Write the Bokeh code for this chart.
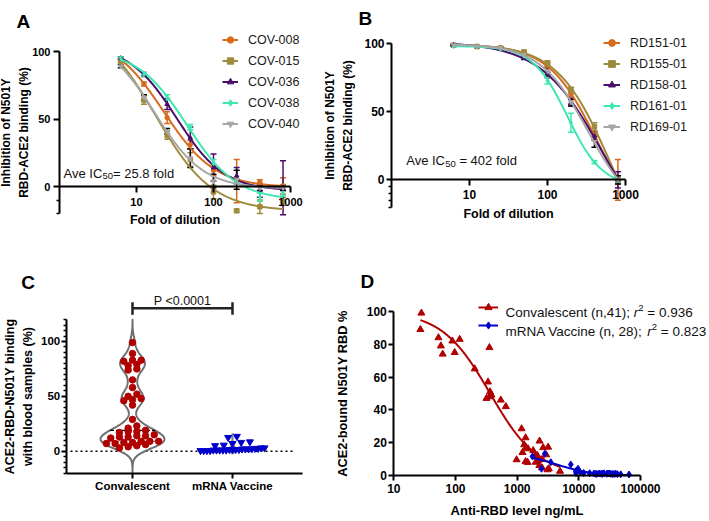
import numpy as np
from bokeh.plotting import figure
from bokeh.models import (Range1d, FixedTicker, NumeralTickFormatter, Label, Legend,
                          LegendItem, Whisker, TeeHead, ColumnDataSource)
from bokeh.layouts import column, row
from bokeh.embed import file_html
from bokeh.resources import INLINE

FONT = "Liberation Sans"

# ---------------- data ----------------
dilutions = [6.25, 12.5, 25, 50, 100, 200, 400, 800]

cov_names = ["COV-008", "COV-015", "COV-036", "COV-038", "COV-040"]
cov_008 = [94, 76, 51, 31, 12, 4, 3, 0.5]
cov_015 = [93, 64, 38, 20, -4, -18, -15, -11]
cov_036 = [95, 83, 61, 36, 14, 8, -3, -1]
cov_038 = [95, 83, 66, 44, 17, 4, -8, -5]
cov_040 = [89, 66, 41, 21, 4, 5, -1, -1]
cov_008_sd = [1.5, 1.5, 4.3, 3.0, 4.0, 16.0, 2.0, 6.0]
cov_015_sd = [1.5, 3.0, 3.0, 5.0, 5.0, 1.0, 5.0, 3.0]
cov_036_sd = [1.0, 1.5, 4.0, 8.0, 10.0, 6.0, 5.0, 20.0]
cov_038_sd = [1.0, 1.5, 2.0, 2.0, 3.0, 2.0, 3.0, 2.0]
cov_040_sd = [1.0, 2.0, 2.0, 7.0, 5.0, 7.0, 2.0, 2.0]

rd_names = ["RD151-01", "RD155-01", "RD158-01", "RD161-01", "RD169-01"]
rd151 = [99, 98, 97, 93, 84, 63, 33, 0]
rd155 = [99, 98, 97, 94, 86, 66, 39, 0]
rd158 = [99, 98, 96, 90, 77, 57, 32, 0]
rd161 = [98, 98, 96, 91, 73, 42, 13, 0]
rd169 = [99, 98, 97, 92, 80, 57, 28, 0]
rd151_sd = [0.5, 0.5, 0.5, 1.0, 2.0, 2.0, 3.0, 15.0]
rd155_sd = [0.5, 0.5, 0.5, 1.0, 1.5, 2.0, 3.0, 3.0]
rd158_sd = [0.5, 0.5, 0.5, 1.5, 2.0, 3.0, 3.0, 6.0]
rd161_sd = [0.5, 0.5, 0.5, 1.5, 2.5, 7.0, 1.0, 2.0]
rd169_sd = [0.5, 0.5, 0.5, 1.5, 3.0, 2.0, 4.0, 3.0]

groups_c = ["Convalescent", "mRNA Vaccine"]
conv_c = [99, 89, 83, 83, 82, 79, 78, 75, 74, 65, 58, 52, 50, 48, 47, 46, 42, 29, 23, 21,
          19, 18, 18, 17, 15, 14, 14, 13, 13, 12, 9, 9, 9, 8, 8, 7, 7, 6, 5, 4, 3]
vac_c = [13.5, 12.5, 8.5, 8, 7, 5.5, 5, 3, 3, 2.5, 2.5, 2, 2, 2, 2, 1.5, 1.5, 1.5, 1.5,
         1, 1, 1, 1, 1, 0.5, 0.5, 0.5, 0.5]
p_text = "P <0.0001"

conv_d_x = [28, 27, 53, 58, 62, 89, 97, 117, 205, 337, 355, 318, 355, 363, 383, 543, 655,
            1180, 1370, 980, 1300, 1400, 1370, 1480, 1500, 1820, 1980, 2130, 2190, 2290,
            2310, 2530, 2530, 2640, 2960, 3180, 3260, 3100, 4960, 1220, 2000]
conv_d_y = [99, 89, 84, 79, 74, 82, 75, 83, 65, 57, 78, 47, 48, 51, 49, 46, 42,
            28.5, 23, 9.6, 18.7, 17, 8.5, 8, 16.3, 15.2, 12.2, 12.2, 9.1, 6.1,
            21, 4.7, 9.8, 17, 12.6, 17.3, 4.1, 3.5, 2.6, 14, 8.1]
vac_d_x = [1770, 2800, 2480, 3510, 7400, 8920, 9700, 10500, 17600, 19500, 21300, 24100,
           25600, 28300, 29700, 32900, 37200, 39600, 42200, 47700, 65200, 15000, 23000,
           35000, 9000, 12000, 19000, 31000]
vac_d_y = [11.6, 13.2, 4.1, 8.1, 6.7, 2.6, 4.1, 2.0, 1.2, 1.0, 1.2, 1.0, 1.3, 1.0, 1.2,
           1.0, 0.9, 1.1, 0.8, 0.7, 0.6, 1.4, 1.1, 0.9, 1.5, 1.5, 1.0, 1.2]

COLORS5 = ["#D86A1E", "#9E8B3D", "#4A0D6E", "#3DE8B0", "#A6A6A6"]
MARKERS5 = ["circle", "square", "triangle", "diamond", "inverted_triangle"]
RED = "#B00000"
BLUE = "#0000CC"

# ---------------- helpers ----------------
W = {' ': 278, '(': 333, ')': 333, ',': 278, ';': 278, '.': 278, '=': 584, '<': 584,
     'A': 667, 'C': 722, 'I': 278, 'N': 722, 'R': 722, 'V': 667, 'P': 667,
     'a': 556, 'c': 500, 'd': 556, 'e': 556, 'f': 278, 'i': 222, 'l': 222, 'm': 833,
     'n': 556, 'o': 556, 'r': 333, 's': 500, 't': 278, 'v': 500}


def tw(s, size):
    return sum(W.get(c, 556) for c in s) / 1000.0 * size


def rich(p, x, y, pieces):
    cx = x
    for t, size, dy, style in pieces:
        lead = len(t) - len(t.lstrip(' '))
        p.add_layout(Label(x=cx + tw(' ' * lead, size), y=y + dy, x_units="screen",
                           y_units="screen", text=t.strip(' '), text_font=FONT,
                           text_font_size=f"{size}px", text_font_style=style,
                           text_baseline="alphabetic", text_align="left",
                           text_color="#111111"))
        cx += tw(t, size)


def fit4pl(x, y, bottom=None, top=None):
    lx = np.log10(np.asarray(x, float))
    y = np.asarray(y, float)
    lic = np.linspace(lx.min() - 0.5, lx.max() + 1.0, 301)[:, None, None]
    hs = np.linspace(0.3, 4.0, 111)[None, :, None]
    g = 1.0 / (1.0 + 10.0 ** (hs * (lx[None, None, :] - lic)))
    if bottom is not None and top is not None:
        b = np.full(g.shape[:2] + (1,), float(bottom))
        s = np.full(g.shape[:2] + (1,), float(top - bottom))
    elif bottom is None:
        gm = g.mean(-1, keepdims=True)
        ym = y.mean()
        s = ((g - gm) * (y - ym)).sum(-1, keepdims=True) / (((g - gm) ** 2).sum(-1, keepdims=True) + 1e-12)
        b = ym - s * gm
    else:
        s = (g * (y - bottom)).sum(-1, keepdims=True) / ((g ** 2).sum(-1, keepdims=True) + 1e-12)
        b = np.full_like(s, float(bottom))
    sse = ((b + s * g - y) ** 2).sum(-1)
    i, j = np.unravel_index(np.argmin(sse), sse.shape)
    return b[i, j, 0], s[i, j, 0], lic[i, 0, 0], hs[0, j, 0]


def curve(params, xmin, xmax, n=200):
    b, s, lic, h = params
    xs = np.logspace(np.log10(xmin), np.log10(xmax), n)
    return xs, b + s / (1.0 + 10.0 ** (h * (np.log10(xs) - lic)))


def fig(w, h, xr, yr, log):
    p = figure(width=w, height=h, x_range=xr, y_range=yr,
               x_axis_type="log" if log else "linear", output_backend="svg",
               toolbar_location=None, min_border=0, title=None)
    p.grid.visible = False
    p.outline_line_color = None
    p.background_fill_color = "white"
    p.border_fill_color = "white"
    return p


def style_axis(ax, tick_size, tick_out=5, lab_standoff=3):
    ax.axis_line_width = 2
    ax.axis_line_color = "black"
    ax.major_tick_line_width = 2
    ax.major_tick_line_color = "black"
    ax.major_tick_out = tick_out
    ax.major_tick_in = 0
    ax.minor_tick_line_width = 1.5
    ax.minor_tick_line_color = "black"
    ax.minor_tick_out = 3
    ax.minor_tick_in = 0
    ax.major_label_text_font = FONT
    ax.major_label_text_font_size = f"{tick_size}px"
    ax.major_label_text_font_style = "bold"
    ax.major_label_text_color = "black"
    ax.major_label_standoff = lab_standoff
    ax.axis_label_text_font = FONT
    ax.axis_label_text_font_style = "bold"
    ax.axis_label_text_color = "black"


def letter(p, x, y, t):
    p.add_layout(Label(x=x, y=y, x_units="screen", y_units="screen", text=t,
                       text_font=FONT, text_font_size="19px", text_font_style="bold",
                       text_baseline="alphabetic", text_color="black"))


def dose_panel(p, names, series, sds, legend_loc, gw):
    items = []
    for k, (nm, ys, sd) in enumerate(zip(names, series, sds)):
        col = COLORS5[k]
        prm = fit4pl(dilutions, ys)
        cx, cy = curve(prm, dilutions[0], dilutions[-1])
        ecol = "black" if k == len(names) - 1 else col
        up = [v + e for v, e in zip(ys, sd)]
        lo = [v - e for v, e in zip(ys, sd)]
        src = ColumnDataSource(dict(base=dilutions, upper=up, lower=lo))
        p.add_layout(Whisker(source=src, base="base", upper="upper", lower="lower",
                             line_color=ecol, line_width=1.5,
                             upper_head=TeeHead(size=6, line_color=ecol, line_width=1.5),
                             lower_head=TeeHead(size=6, line_color=ecol, line_width=1.5)))
        lr = p.line(cx, cy, line_color=col, line_width=2)
        sr = p.scatter(dilutions, ys, marker=MARKERS5[k], size=4.5, color=col)
        items.append(LegendItem(label=nm, renderers=[lr, sr]))
    lg = Legend(items=items, location=legend_loc, glyph_width=gw, glyph_height=19,
                label_height=19, spacing=2, padding=0, margin=0, border_line_color=None,
                background_fill_alpha=0, label_standoff=10, label_text_font=FONT,
                label_text_font_size="12.5px", label_text_color="#1a1a1a")
    p.add_layout(lg)


# ---------------- Panel A ----------------
pA = fig(318, 255, Range1d(0.1714, 2310), Range1d(-51.11, 137.78), True)
xa = pA.xaxis[0]
style_axis(xa, 11, tick_out=6, lab_standoff=5)
xa.fixed_location = 0
xa.bounds = (1, 1000)
xa.ticker = FixedTicker(ticks=[10, 100, 1000])
xa.formatter = NumeralTickFormatter(format="0")
xa.axis_label = "Fold of dilution"
xa.axis_label_text_font_size = "12.5px"
xa.axis_label_standoff = 4
ya = pA.yaxis[0]
style_axis(ya, 11, tick_out=6, lab_standoff=3)
ya.fixed_location = 1
ya.bounds = (-20, 100)
ya.ticker = FixedTicker(ticks=[0, 50, 100], minor_ticks=[-10, -20])
ya.axis_label = "Inhibition of N501Y\nRBD-ACE2 binding (%)"
ya.axis_label_text_font_size = "12px"
ya.axis_label_text_line_height = 1.3
ya.axis_label_standoff = -2
dose_panel(pA, cov_names, [cov_008, cov_015, cov_036, cov_038, cov_040],
           [cov_008_sd, cov_015_sd, cov_036_sd, cov_038_sd, cov_040_sd], (222, 122), 16)
rich(pA, 63, 82.3, [("Ave IC", 13, 0, "normal"), ("50", 9.5, -3, "normal"),
                    ("= 25.8 fold", 13, 0, "normal")])
letter(pA, 16, 234.3, "A")

# ---------------- Panel B ----------------
pB = fig(391, 255, Range1d(0.1159, 11940), Range1d(-55.66, 131.84), True)
xb = pB.xaxis[0]
style_axis(xb, 12, tick_out=6, lab_standoff=4)
xb.fixed_location = 0
xb.bounds = (1, 1000)
xb.ticker = FixedTicker(ticks=[10, 100, 1000])
xb.formatter = NumeralTickFormatter(format="0")
xb.axis_label = "Fold of dilution"
xb.axis_label_text_font_size = "12.5px"
xb.axis_label_standoff = 5
yb = pB.yaxis[0]
style_axis(yb, 12, tick_out=5, lab_standoff=2)
yb.fixed_location = 1
yb.bounds = (-20, 100)
yb.ticker = FixedTicker(ticks=[0, 50, 100], minor_ticks=[-5, -10, -15, -20])
yb.axis_label = "Inhibition of N501Y\nRBD-ACE2 binding (%)"
yb.axis_label_text_font_size = "12px"
yb.axis_label_text_line_height = 1.3
yb.axis_label_standoff = 6
dose_panel(pB, rd_names, [rd151, rd155, rd158, rd161, rd169],
           [rd151_sd, rd155_sd, rd158_sd, rd161_sd, rd169_sd], (285, 119), 17)
rich(pB, 87.7, 95, [("Ave IC", 13, 0, "normal"), ("50", 9.5, -3, "normal"),
                    (" = 402 fold", 13, 0, "normal")])
letter(pB, 40, 236.7, "B")

# ---------------- Panel C ----------------
pC = fig(322, 266, Range1d(-0.32, 2.90), Range1d(-64.1, 178.4), False)
xc = pC.xaxis[0]
style_axis(xc, 11.5, tick_out=5, lab_standoff=2)
xc.fixed_location = -20
xc.bounds = (0.337, 2.697)
xc.ticker = FixedTicker(ticks=[1, 2])
xc.major_label_overrides = {1: groups_c[0], 2: groups_c[1]}
yc = pC.yaxis[0]
style_axis(yc, 11.5, tick_out=5, lab_standoff=1)
yc.fixed_location = 0.337
yc.bounds = (-20, 120)
yc.ticker = FixedTicker(ticks=[0, 50, 100],
                        minor_ticks=[v for v in range(-20, 121, 5) if v not in (0, 50, 100)])
yc.axis_label = "ACE2-RBD-N501Y binding\nwith blood samples (%)"
yc.axis_label_text_font_size = "12.5px"
yc.axis_label_text_line_height = 1.3
yc.axis_label_standoff = 3


def kde(vals, grid, bw):
    v = np.asarray(vals, float)[None, :]
    return np.exp(-0.5 * ((grid[:, None] - v) / bw) ** 2).sum(1)


def swarm(vals, center, binh, step_px, maxw_px, px_per_x):
    v = np.sort(np.asarray(vals, float))
    xs = np.empty_like(v)
    i, n = 0, len(v)
    while i < n:
        j = i
        while j + 1 < n and v[j + 1] - v[i] < binh:
            j += 1
        k = j - i + 1
        step = step_px if k == 1 else min(step_px, maxw_px / (k - 1))
        xs[i:j + 1] = center + (np.arange(k) - (k - 1) / 2.0) * step / px_per_x
        i = j + 1
    return xs, v


# zero reference line
pC.segment(x0=[0.38], y0=[0], x1=[2.61], y1=[0], line_color="black", line_width=1.5,
           line_dash="2 3")

# convalescent violin
grid = np.linspace(-20, 120, 281)
dc = kde(conv_c, grid, 6.0)
half_c = dc / dc.max() * 0.32
pC.patch(np.concatenate([1 - half_c, (1 + half_c)[::-1]]), np.concatenate([grid, grid[::-1]]),
         fill_color="white", line_color="#6E6E6E", line_width=2)
med = float(np.median(conv_c))
q1, q3 = [float(v) for v in np.percentile(conv_c, [25, 75])]
for yv, colr, dash, lw in [(med, "black", "4 2", 1.2), (q1, "#8C8C8C", "2 2", 1.5),
                           (q3, "#8C8C8C", "2 2", 1.5)]:
    hw = float(np.interp(yv, grid, half_c))
    pC.segment(x0=[1 - hw], y0=[yv], x1=[1 + hw], y1=[yv], line_color=colr,
               line_width=lw, line_dash=dash)

# vaccine violin (small)
grid_v = np.linspace(-2, 16, 181)
dv = kde(vac_c, grid_v, 1.9)
half_v = dv / dv.max() * 0.04
pC.patch(np.concatenate([2 - half_v, (2 + half_v)[::-1]]), np.concatenate([grid_v, grid_v[::-1]]),
         fill_color="#9A9A9A", line_color="#8A8A8A", line_width=1.5)

sx1, sy1 = swarm(conv_c, 1, 4.0, 8.7, 62, 100)
pC.scatter(sx1, sy1, marker="circle", size=6.5, color=RED)
sx2, sy2 = swarm(vac_c, 2, 4.0, 8.7, 64, 100)
pC.scatter(sx2, sy2, marker="inverted_triangle", size=7, color=BLUE)

# significance bracket
br_y, br_lo, br_hi = 130.4, 124.3, 135.8
pC.segment(x0=[1, 1, 2], y0=[br_y, br_lo, br_lo], x1=[2, 1, 2], y1=[br_y, br_hi, br_hi],
           line_color="#222222", line_width=2.5)
pC.add_layout(Label(x=1.5, y=136.5, text=p_text, text_font=FONT, text_font_size="12.5px",
                    text_align="center", text_baseline="alphabetic", text_color="#111111"))
letter(pC, 20.7, 239.3, "C")

# ---------------- Panel D ----------------
pD = fig(387, 266, Range1d(0.698, 1.315e6), Range1d(-28.05, 134.1), True)
xd = pD.xaxis[0]
style_axis(xd, 12, tick_out=5, lab_standoff=4)
xd.fixed_location = 0
xd.bounds = (10, 100000)
xd.ticker = FixedTicker(ticks=[10, 100, 1000, 10000, 100000])
xd.formatter = NumeralTickFormatter(format="0")
xd.axis_label = "Anti-RBD level ng/mL"
xd.axis_label_text_font_size = "13px"
xd.axis_label_standoff = 6
yd = pD.yaxis[0]
style_axis(yd, 12, tick_out=5, lab_standoff=2)
yd.fixed_location = 10
yd.bounds = (0, 100)
yd.ticker = FixedTicker(ticks=[0, 20, 40, 60, 80, 100])
yd.axis_label = "ACE2-bound N501Y RBD %"
yd.axis_label_text_font_size = "12.8px"
yd.axis_label_standoff = 13

prm_c = fit4pl(conv_d_x, conv_d_y, bottom=0, top=100)
cxc, cyc = curve(prm_c, min(conv_d_x), max(conv_d_x))
prm_v = fit4pl(vac_d_x, vac_d_y, bottom=0)
cxv, cyv = curve(prm_v, min(vac_d_x), max(vac_d_x))
src_cd = pD.scatter(conv_d_x, conv_d_y, marker="triangle", size=7, color=RED)
lr_c = pD.line(cxc, cyc, line_color=RED, line_width=2)
src_vd = pD.scatter(vac_d_x, vac_d_y, marker="diamond", size=7, color=BLUE)
lr_v = pD.line(cxv, cyv, line_color=BLUE, line_width=2)
lgD = Legend(items=[LegendItem(label=" ", renderers=[lr_c, src_cd]),
                    LegendItem(label=" ", renderers=[lr_v, src_vd])],
             location=(156, 187), glyph_width=20, glyph_height=18, label_height=18,
             spacing=0, padding=0, margin=0, border_line_color=None,
             background_fill_alpha=0, label_standoff=2, label_text_font=FONT)
pD.add_layout(lgD)
rich(pD, 183, 208.7, [("Convalescent (n,41); ", 13.5, 0, "normal"), ("r", 13.5, 0, "italic"),
                      ("2", 9.5, 5, "normal"), (" = 0.936", 13.5, 0, "normal")])
rich(pD, 183, 190, [("mRNA Vaccine (n, 28); ", 13.5, 0, "normal"), ("r", 13.5, 0, "italic"),
                    ("2", 9.5, 5, "normal"), (" = 0.823", 13.5, 0, "normal")])
letter(pD, 38, 240, "D")

layout = column(row(pA, pB), row(pC, pD))
open("out.html", "w").write(file_html(layout, INLINE))
